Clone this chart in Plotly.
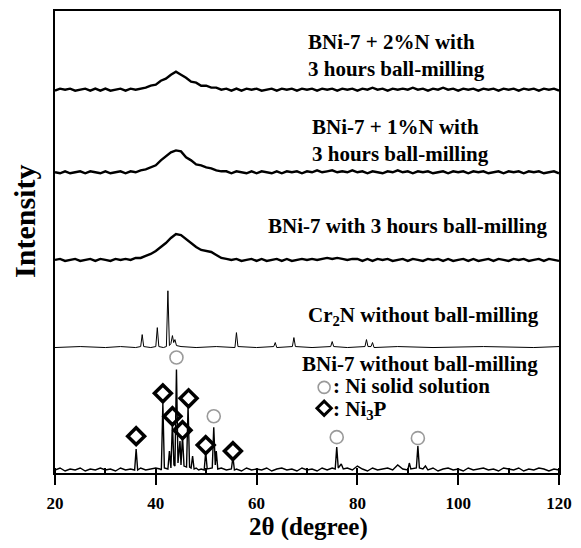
import plotly.graph_objects as go

# ---------------- data ----------------
TWO_THETA_GRID = list(range(20, 121))  # 1 degree sampling for the broad patterns

# BNi-7 + 2%N, 3 h ball-milling (relative intensity)
BNI7_2N_INT = [0, 2, 1, 2, 0, 1, 2, 0, 2, 0,
               2, 0, 1, 2, 0, 2, 1, 2, 3, 5,
               6, 10, 12, 16, 19, 16, 13, 9, 8, 5,
               5, 3, 3, 1, 2, 0, 2, 0, 2, 1,
               2, 0, 1, 2, 0, 2, 1, 2, 0, 2,
               1, 2, 0, 2, 1, 2, 0, 2, 1, 2,
               0, 2, 1, 3, 1, 2, 0, 2, 1, 2,
               1, 3, 1, 2, 0, 2, 1, 3, 1, 2,
               0, 2, 1, 2, 0, 2, 1, 2, 0, 2,
               1, 2, 0, 2, 1, 2, 0, 2, 1, 2, 0]

# BNi-7 + 1%N, 3 h ball-milling
BNI7_1N_INT = [1, 0, 2, 0, 1, 2, 0, 2, 1, 0,
               2, 0, 1, 2, 0, 2, 1, 3, 4, 6,
               8, 13, 17, 21, 23, 22, 16, 13, 9, 8,
               6, 5, 3, 2, 2, 0, 2, 1, 0, 2,
               0, 2, 1, 0, 2, 0, 2, 1, 2, 0,
               2, 1, 3, 1, 2, 3, 1, 2, 1, 3,
               1, 2, 0, 2, 1, 0, 2, 1, 3, 1,
               2, 0, 2, 1, 2, 0, 1, 2, 0, 2,
               1, 2, 0, 2, 1, 2, 0, 1, 2, 0,
               2, 1, 2, 0, 2, 1, 2, 0, 1, 2, 0]

# BNi-7, 3 h ball-milling
BNI7_3H_INT = [1, 2, 0, 1, 2, 0, 1, 2, 0, 2,
               1, 0, 2, 1, 2, 1, 3, 3, 5, 7,
               10, 14, 18, 23, 27, 26, 22, 18, 14, 11,
               10, 9, 6, 3, 2, 1, 2, 0, 1, 2,
               0, 2, 0, 1, 2, 0, 2, 0, 1, 2,
               1, 2, 1, 2, 3, 2, 3, 2, 1, 2,
               2, 0, 2, 0, 2, 1, 2, 0, 1, 2,
               0, 2, 1, 0, 2, 1, 2, 0, 2, 0,
               1, 2, 0, 2, 0, 1, 2, 0, 2, 1,
               0, 2, 1, 2, 0, 1, 2, 0, 2, 1, 0]

# Cr2N without ball-milling
CR2N_2THETA = [20, 25, 30, 33, 36, 37.0, 37.3, 37.6, 39, 40.0, 40.3, 40.6, 41.5,
               42.1, 42.4, 42.7, 43.0, 43.3, 43.55, 43.8, 44.1, 45, 48, 52, 55.7,
               56.0, 56.3, 60, 63.4, 63.7, 64.0, 67.1, 67.4, 67.7, 71, 74.7, 75.0,
               75.3, 78, 81.5, 81.8, 82.1, 82.7, 83.0, 83.3, 88, 95, 105, 115, 120]
CR2N_INT = [0, 1, 0, 1, 0, 1, 13, 1, 0, 1, 20, 1, 0,
            1, 57, 2, 4, 12, 5, 8, 2, 1, 0, 1, 0,
            15, 1, 0, 1, 5, 0, 1, 10, 1, 0, 1, 6,
            1, 0, 1, 8, 1, 1, 5, 0, 1, 0, 1, 0, 1]

# BNi-7 without ball-milling
BNI7_RAW_2THETA = [20, 21, 22, 23, 24, 25, 26, 27, 28, 29, 30, 31, 32, 33, 34, 35,
                   35.8, 36.1, 36.4, 37, 38, 39, 40, 40.8, 41.1, 41.4, 41.7, 42.4,
                   42.7, 43.0, 43.3, 43.6, 43.8, 44.1, 44.4, 44.8, 45.0, 45.3, 45.6,
                   46.1, 46.4, 46.7, 47.0, 47.3, 47.6, 48, 48.5, 49, 49.6, 49.9, 50.2,
                   51.2, 51.5, 51.8, 52.0, 52.3, 53, 54, 55.0, 55.3, 55.6, 56, 57, 58,
                   59, 60, 61, 62, 63, 64, 65, 66, 67, 68, 69, 70, 71, 72, 73, 74, 75,
                   75.6, 75.9, 76.2, 76.8, 77.2, 78, 79, 80, 81, 82, 83, 84, 85, 86,
                   87, 88, 89, 90, 90.3, 90.6, 91.7, 92.0, 92.3, 93, 93.5, 94, 95, 96,
                   97, 98, 99, 100, 101, 102, 103, 104, 105, 106, 107, 108, 109, 110,
                   111, 112, 113, 114, 115, 116, 117, 118, 119, 120]
BNI7_RAW_INT = [1, 3, 0, 2, 1, 3, 0, 2, 1, 3, 1, 2, 0, 3, 1, 2,
                1, 22, 1, 3, 1, 2, 3, 2, 1, 68, 3, 2,
                20, 3, 49, 6, 5, 102, 8, 30, 6, 35, 5,
                4, 65, 4, 3, 15, 2, 3, 1, 2, 1, 19, 2,
                3, 44, 6, 20, 2, 3, 1, 2, 14, 1, 2, 0, 3,
                1, 2, 1, 3, 0, 2, 3, 1, 2, 0, 3, 1, 2, 0, 3, 1, 3,
                2, 24, 3, 7, 2, 3, 1, 5, 2, 0, 3, 1, 2, 3,
                1, 6, 2, 1, 8, 2, 3, 25, 3, 2, 5, 1, 3, 0,
                2, 3, 1, 2, 0, 3, 1, 2, 3, 1, 2, 0, 3, 2,
                1, 3, 0, 2, 1, 3, 2, 0, 2, 1]

# vertical offsets of the stacked patterns
OFFSETS = {"raw": 2, "cr2n": 126, "3h": 213, "1n": 301, "2n": 384}

# phase markers (2theta, height above baseline)
NI_SS_2THETA = [44.1, 51.5, 75.9, 92.0]
NI_SS_HEIGHT = [114, 55, 34, 33]
NI3P_2THETA = [36.1, 41.4, 43.3, 45.3, 46.5, 49.9, 55.3]
NI3P_HEIGHT = [35, 78, 55, 41, 73, 26, 20]

LABELS = {
    "2n": "BNi-7 + 2%N with<br>3 hours ball-milling",
    "1n": "BNi-7 + 1%N with<br>3 hours ball-milling",
    "3h": "BNi-7 with 3 hours ball-milling",
    "cr2n": "Cr<sub>2</sub>N without ball-milling",
    "raw": "BNi-7 without ball-milling",
}

FONT = "Liberation Serif, Times New Roman, serif"

fig = go.Figure()

def add_line(x, y, off, width):
    fig.add_trace(go.Scatter(x=x, y=[v + off for v in y], mode="lines",
                             line=dict(color="black", width=width), showlegend=False,
                             hoverinfo="skip"))

add_line(TWO_THETA_GRID, BNI7_2N_INT, OFFSETS["2n"], 2.4)
add_line(TWO_THETA_GRID, BNI7_1N_INT, OFFSETS["1n"], 2.4)
add_line(TWO_THETA_GRID, BNI7_3H_INT, OFFSETS["3h"], 2.4)
add_line(CR2N_2THETA, CR2N_INT, OFFSETS["cr2n"], 1)
add_line(BNI7_RAW_2THETA, BNI7_RAW_INT, OFFSETS["raw"], 1.4)

# phase markers
fig.add_trace(go.Scatter(x=NI_SS_2THETA, y=[h + OFFSETS["raw"] for h in NI_SS_HEIGHT],
                         mode="markers", showlegend=False,
                         marker=dict(symbol="circle-open", size=13, color="#9a9a9a",
                                     line=dict(width=1.6, color="#9a9a9a"))))
fig.add_trace(go.Scatter(x=NI3P_2THETA, y=[h + OFFSETS["raw"] for h in NI3P_HEIGHT],
                         mode="markers", showlegend=False,
                         marker=dict(symbol="diamond-open", size=13, color="black",
                                     line=dict(width=3.5, color="black"))))

# inline key
KEY_X = 73.4
fig.add_trace(go.Scatter(x=[KEY_X], y=[86], mode="markers", showlegend=False,
                         marker=dict(symbol="circle-open", size=12, color="#9a9a9a",
                                     line=dict(width=1.6, color="#9a9a9a"))))
fig.add_trace(go.Scatter(x=[KEY_X], y=[65], mode="markers", showlegend=False,
                         marker=dict(symbol="diamond-open", size=11, color="black",
                                     line=dict(width=3, color="black"))))

tf = dict(family=FONT, size=21, color="black", weight="bold")
ann = [
    dict(x=69.8, y=419, text=LABELS["2n"], xanchor="left", yanchor="middle", align="left"),
    dict(x=70.6, y=334, text=LABELS["1n"], xanchor="left", yanchor="middle", align="left"),
    dict(x=61.9, y=248, text=LABELS["3h"], xanchor="left", yanchor="middle", align="left"),
    dict(x=69.8, y=158, text=LABELS["cr2n"], xanchor="left", yanchor="middle", align="left"),
    dict(x=68.6, y=109, text=LABELS["raw"], xanchor="left", yanchor="middle", align="left"),
    dict(x=74.8, y=87, text=": Ni solid solution", xanchor="left", yanchor="middle", align="left"),
    dict(x=74.8, y=63, text=": Ni<sub>3</sub>P", xanchor="left", yanchor="middle", align="left"),
]
for a in ann:
    a.update(xref="x", yref="y", showarrow=False, font=tf)
    fig.add_annotation(**a)

fig.add_annotation(text="Intensity", xref="paper", yref="paper", x=-0.062, y=0.545,
                   xanchor="center", yanchor="middle", textangle=-90, showarrow=False,
                   font=dict(family=FONT, size=30, color="black", weight="bold"))
fig.add_annotation(text="2θ (degree)", xref="paper", yref="paper", x=0.502, y=-0.116,
                   xanchor="center", yanchor="middle", showarrow=False,
                   font=dict(family=FONT, size=25, color="black", weight="bold"))

fig.update_xaxes(range=[20, 120], tickvals=[20, 40, 60, 80, 100, 120],
                 ticks="outside", ticklen=10, tickwidth=2, tickcolor="black",
                 showline=True, linewidth=2, linecolor="black", mirror=True,
                 showgrid=False, zeroline=False, ticklabelstandoff=4,
                 ticklabeloverflow="allow",
                 tickfont=dict(family=FONT, size=17, color="black", weight="bold"),
                 minor=dict(ticks="inside", ticklen=5, dtick=10, tick0=20, tickwidth=1.5,
                            tickcolor="black", showgrid=False))
fig.update_yaxes(range=[0, 464], showticklabels=False, ticks="",
                 showline=True, linewidth=2, linecolor="black", mirror=True,
                 showgrid=False, zeroline=False)

# the page places the figure 8 px from the top-left corner of the window;
# keep the page within the window so no scrollbars appear
fig.update_layout(width=565, height=532, plot_bgcolor="white", paper_bgcolor="white",
                  margin=dict(l=47, r=10, t=1, b=67), showlegend=False)

fig.write_html("out.html")
